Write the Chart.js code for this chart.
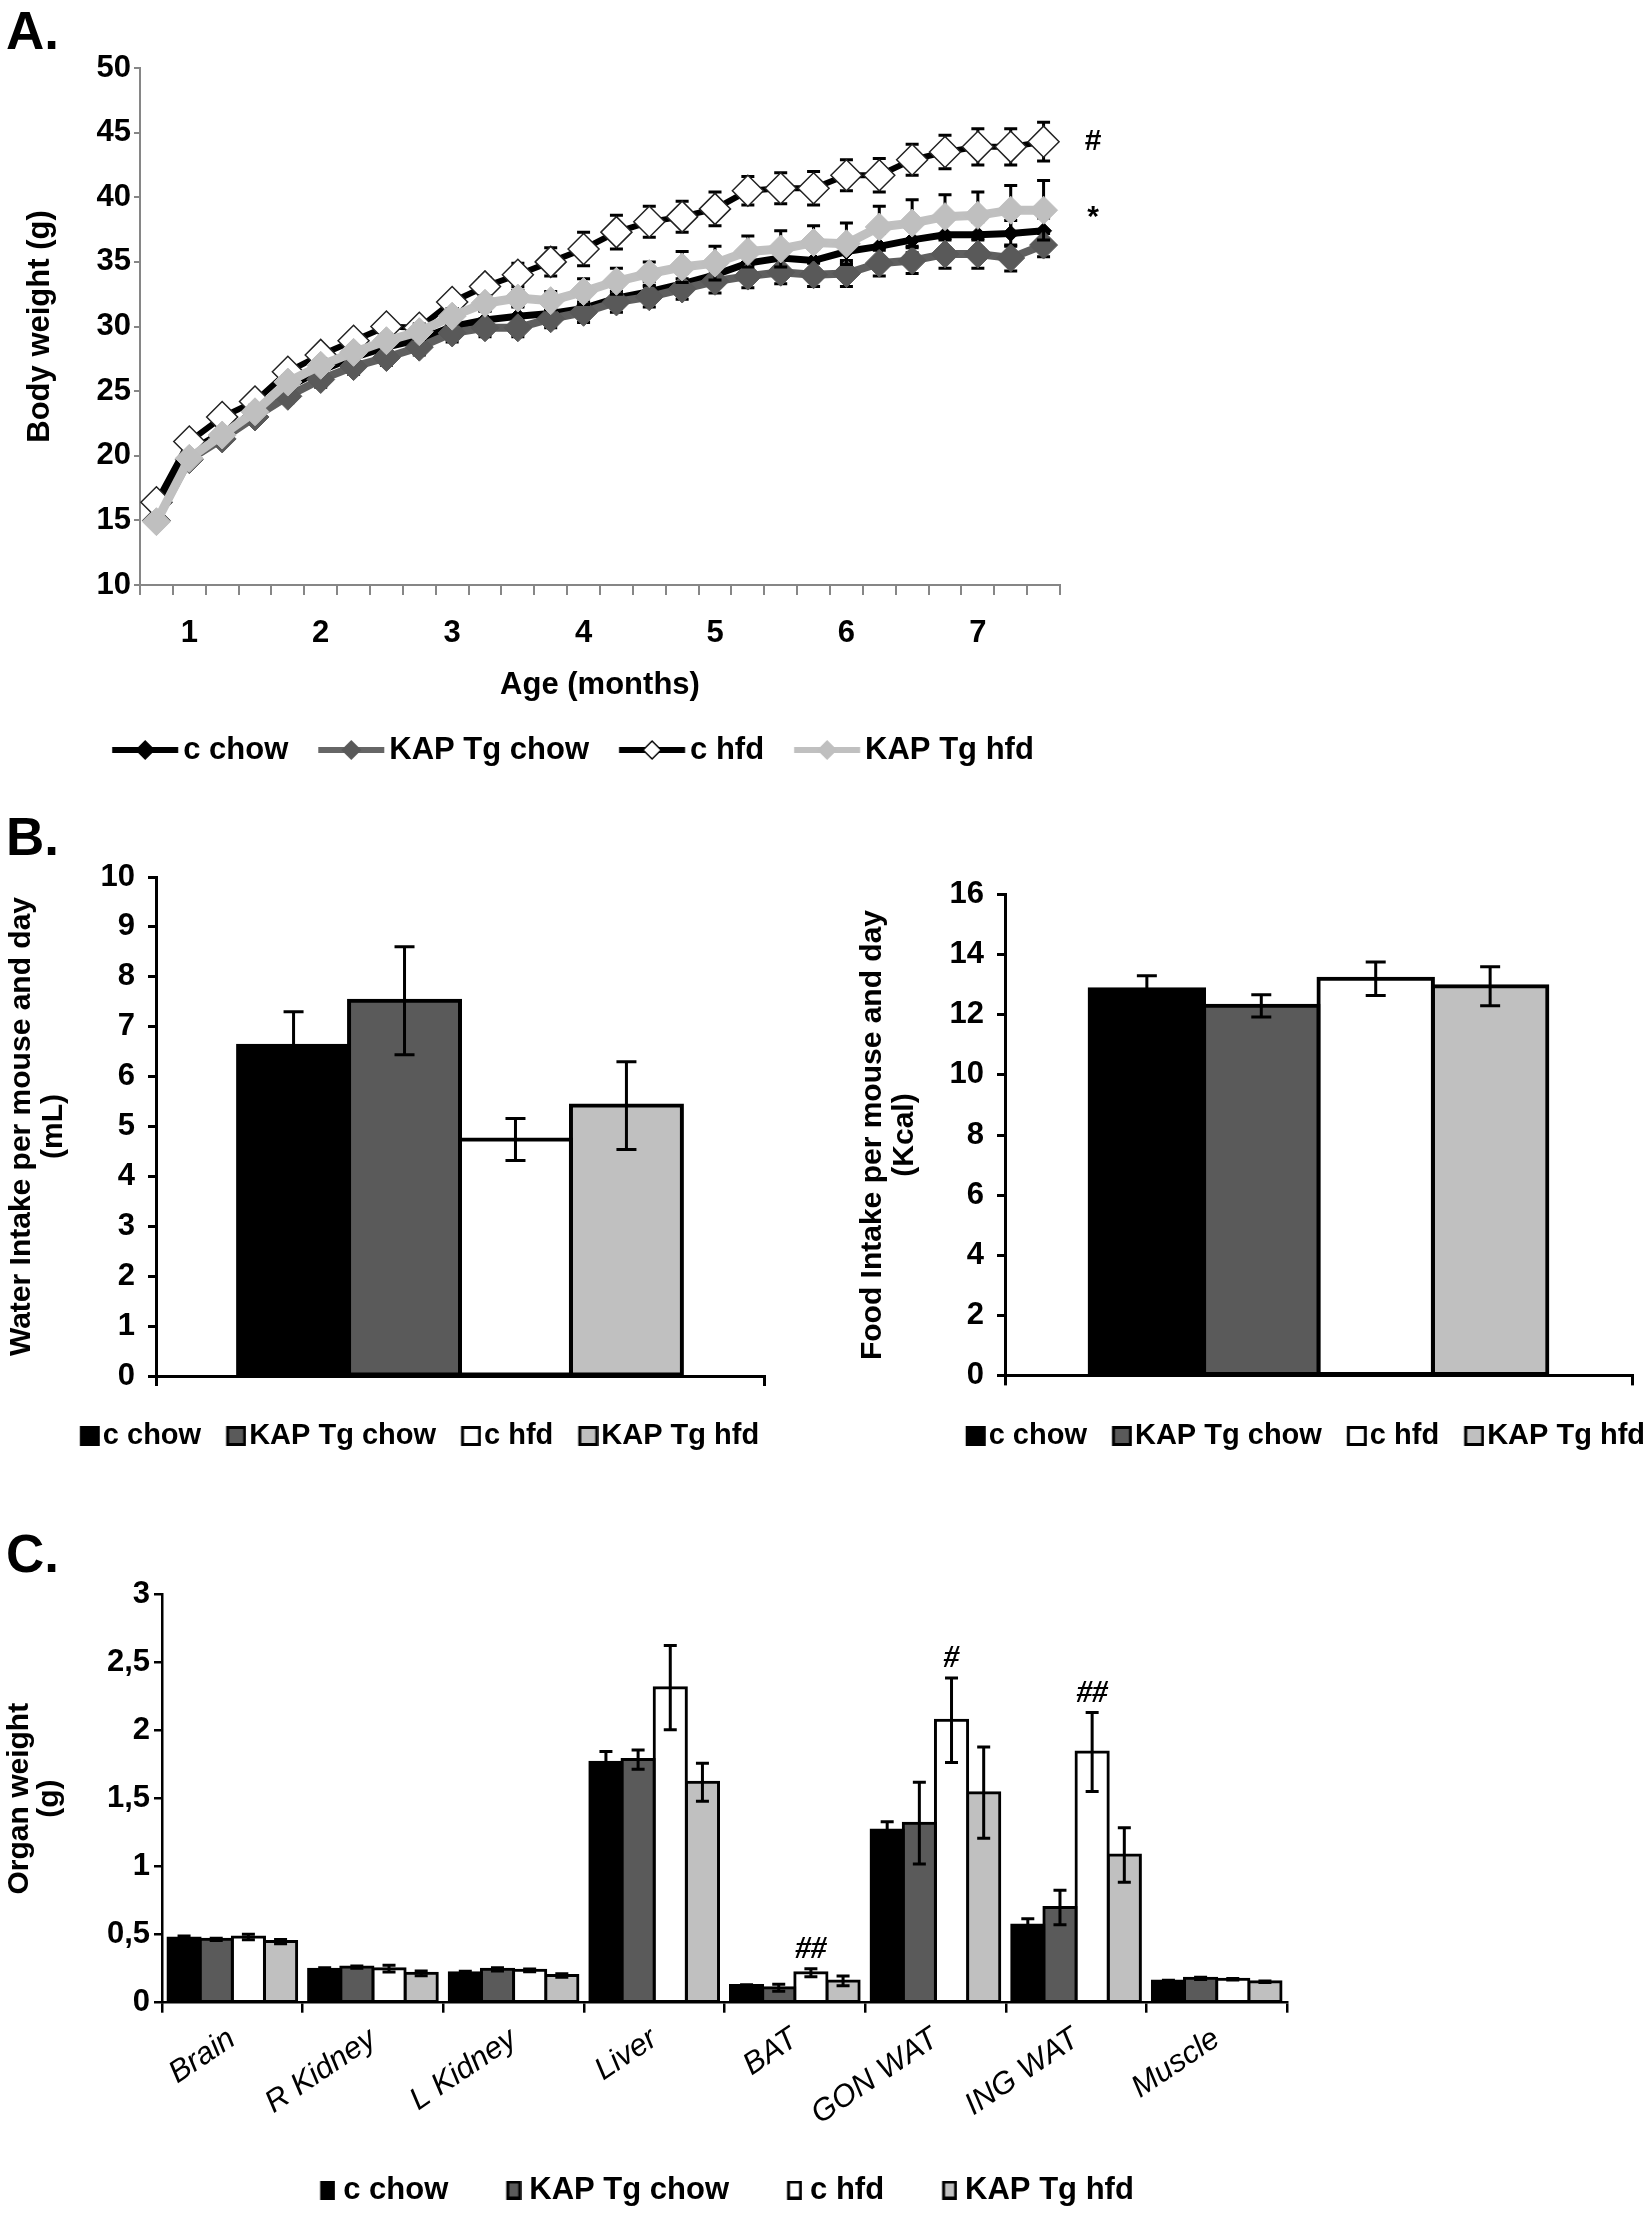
<!DOCTYPE html>
<html>
<head>
<meta charset="utf-8">
<title>Body weight, intake and organ weight</title>
<script src="https://cdn.jsdelivr.net/npm/chart.js@4.4.1/dist/chart.umd.min.js"></script>
<style>
  html, body { margin: 0; padding: 0; background: #fff; overflow: hidden; }
  body { position: relative; width: 1650px; height: 2217px; font-family: "Liberation Sans", Arial, sans-serif; }
  canvas { position: absolute; }
  .tag { position: absolute; left: 6px; font: bold 53px/1 "Liberation Sans", Arial, sans-serif; }
</style>
</head>
<body>
<div class="tag" style="top:4px">A.</div>
<div class="tag" style="top:810px">B.</div>
<div class="tag" style="top:1527px">C.</div>
<canvas id="weight" width="1146" height="745" style="left:0;top:40px"></canvas>
<canvas id="water" width="839" height="630" style="left:0;top:840px"></canvas>
<canvas id="food" width="820" height="630" style="left:850px;top:840px"></canvas>
<canvas id="organs" width="1421" height="657" style="left:0;top:1560px"></canvas>
<script>
// values
var groups = ['c chow', 'KAP Tg chow', 'c hfd', 'KAP Tg hfd'];

// A. body weight, one point a week
var ageLabels = ['', '1', '', '', '', '2', '', '', '', '3', '', '', '', '4', '', '', '', '5', '', '', '', '6', '', '', '', '7', '', ''];
var cChowWeight = [15.4, 20.3, 21.8, 23.3, 25.3, 26.6, 27.6, 28.4, 29.0, 30.0, 30.5, 30.8, 31.0, 31.4, 32.2, 32.7, 33.3, 34.0, 34.9, 35.3, 35.1, 35.8, 36.2, 36.7, 37.1, 37.1, 37.2, 37.4];
var kapChowWeight = [15.0, 19.7, 21.3, 23.0, 24.6, 25.9, 26.9, 27.6, 28.4, 29.5, 29.9, 29.9, 30.6, 31.1, 31.9, 32.3, 32.9, 33.5, 33.9, 34.2, 34.0, 34.1, 34.9, 35.1, 35.6, 35.6, 35.3, 36.3];
var cHfdWeight = [16.4, 21.1, 23.0, 24.2, 26.5, 27.8, 28.9, 30.0, 29.9, 31.9, 33.1, 34.0, 35.0, 36.0, 37.3, 38.1, 38.5, 39.1, 40.5, 40.7, 40.7, 41.7, 41.7, 42.9, 43.5, 43.9, 43.9, 44.3];
var kapHfdWeight = [14.9, 19.8, 21.6, 23.4, 25.7, 27.0, 28.0, 28.9, 29.6, 30.8, 31.8, 32.2, 32.0, 32.7, 33.5, 34.1, 34.6, 34.9, 35.8, 36.0, 36.5, 36.4, 37.7, 38.0, 38.5, 38.6, 39.0, 39.0];
var cChowWeightErr = [0.5, 0.5, 0.5, 0.5, 0.6, 0.6, 0.6, 0.6, 0.7, 0.7, 0.7, 0.7, 0.7, 0.8, 0.8, 0.8, 0.8, 0.8, 0.9, 0.9, 0.9, 0.9, 1.0, 1.0, 1.0, 1.0, 1.0, 1.0];
var kapChowWeightErr = [0.4, 0.4, 0.5, 0.5, 0.5, 0.6, 0.6, 0.6, 0.6, 0.7, 0.7, 0.7, 0.7, 0.8, 0.8, 0.8, 0.8, 0.9, 0.9, 0.9, 0.9, 1.0, 1.0, 1.0, 1.1, 1.1, 1.0, 0.9];
var cHfdWeightErr = [0.5, 0.5, 0.5, 0.5, 0.6, 0.6, 0.6, 0.6, 0.6, 0.6, 0.7, 0.9, 1.1, 1.3, 1.3, 1.2, 1.2, 1.3, 1.1, 1.2, 1.3, 1.2, 1.3, 1.2, 1.3, 1.4, 1.4, 1.5];
var kapHfdWeightErr = [0.4, 0.4, 0.4, 0.5, 0.5, 0.5, 0.5, 0.5, 0.6, 0.6, 0.6, 0.6, 0.7, 1.0, 1.0, 0.9, 1.2, 1.3, 1.2, 1.4, 1.3, 1.6, 1.6, 1.8, 1.7, 1.8, 1.9, 2.3];
var endMarks = ['', '', '#', '*'];

// B. intake per mouse and day
var waterIntake = [6.62, 7.52, 4.74, 5.42];
var waterErr = [0.68, 1.08, 0.42, 0.88];
var foodIntake = [12.85, 12.3, 13.2, 12.95];
var foodErr = [0.45, 0.37, 0.56, 0.65];

// C. organ weight
var organs = ['Brain', 'R Kidney', 'L Kidney', 'Liver', 'BAT', 'GON WAT', 'ING WAT', 'Muscle'];
var cChowOrgan = [0.475, 0.245, 0.22, 1.767, 0.127, 1.27, 0.571, 0.16];
var kapChowOrgan = [0.466, 0.262, 0.245, 1.787, 0.11, 1.32, 0.70, 0.179];
var cHfdOrgan = [0.483, 0.25, 0.238, 2.316, 0.22, 2.076, 1.843, 0.172];
var kapHfdOrgan = [0.449, 0.216, 0.20, 1.62, 0.16, 1.544, 1.086, 0.154];
var cChowOrganErr = [0.015, 0.012, 0.012, 0.08, 0.005, 0.06, 0.047, 0.005];
var kapChowOrganErr = [0.008, 0.008, 0.012, 0.07, 0.025, 0.30, 0.127, 0.008];
var cHfdOrganErr = [0.02, 0.025, 0.01, 0.31, 0.03, 0.31, 0.29, 0.005];
var kapHfdOrganErr = [0.015, 0.017, 0.012, 0.14, 0.036, 0.336, 0.2, 0.005];
var organMarks = ['', '', '', '', '##', '#', '##', ''];

var fills = ['#000000', '#5a5a5a', '#ffffff', '#c0c0c0'];

Chart.defaults.font.family = '"Liberation Sans", Arial, Helvetica, sans-serif';
Chart.defaults.font.weight = 'bold';
Chart.defaults.font.size = 30;
Chart.defaults.color = '#000';
Chart.defaults.animation = false;
Chart.defaults.events = [];
Chart.defaults.plugins.tooltip.enabled = false;

// error bars from dataset.errors, under the markers for lines, on top for bars
function drawErrors(chart, index, opts) {
	var ds = chart.data.datasets[index];
	if (!ds.errors) return;
	var meta = chart.getDatasetMeta(index),
		y = chart.scales[meta.yAxisID],
		ctx = chart.ctx,
		hw = opts.cap / 2;
	ctx.save();
	ctx.strokeStyle = opts.color;
	ctx.lineWidth = opts.width;
	meta.data.forEach(function (el, k) {
		var v = ds.data[k], e = ds.errors[k];
		if (v == null || !e) return;
		var top = y.getPixelForValue(v + e),
			bot = y.getPixelForValue(v - e);
		ctx.beginPath();
		ctx.moveTo(el.x, top); ctx.lineTo(el.x, bot);
		ctx.moveTo(el.x - hw, top); ctx.lineTo(el.x + hw, top);
		ctx.moveTo(el.x - hw, bot); ctx.lineTo(el.x + hw, bot);
		ctx.stroke();
	});
	ctx.restore();
}

var errorBars = {
	id: 'errorBars',
	defaults: { under: false, cap: 14, width: 3, color: '#000' },
	beforeDatasetDraw: function (chart, args, opts) { if (opts.under) drawErrors(chart, args.index, opts); },
	afterDatasetDraw: function (chart, args, opts) { if (!opts.under) drawErrors(chart, args.index, opts); }
};

// significance signs: at the end of a line, or above a bar's error bar
var sigMarks = {
	id: 'sigMarks',
	afterDatasetsDraw: function (chart) {
		var ctx = chart.ctx;
		chart.data.datasets.forEach(function (ds, i) {
			var meta = chart.getDatasetMeta(i),
				y = chart.scales[meta.yAxisID];
			ctx.save();
			ctx.fillStyle = '#000';
			ctx.textAlign = 'center';
			ctx.textBaseline = 'middle';
			if (ds.endMark) {
				var last = ds.data.length - 1;
				ctx.font = 'bold 30px "Liberation Sans", Arial, sans-serif';
				ctx.fillText(ds.endMark, chart.chartArea.right + 33,
					y.getPixelForValue(ds.data[last]) + (ds.endMark === '*' ? 8 : 0));
			}
			if (ds.marks) {
				ctx.font = 'italic bold 31px "Liberation Serif", "Times New Roman", serif';
				ds.marks.forEach(function (m, k) {
					if (!m) return;
					var top = y.getPixelForValue(ds.data[k] + (ds.errors ? ds.errors[k] : 0));
					ctx.fillText(m, meta.data[k].x, top - 19);
				});
			}
			ctx.restore();
		});
	}
};

Chart.register(errorBars, sigMarks);

// legend symbol: starts lead px into the item, text follows gap px after it
function legendIcon(symW, symH, gap, fontSize, paint, lead) {
	lead = lead || 0;
	var boxW = lead + symW + gap - fontSize / 2,
		half = Math.ceil(Math.max(Math.abs(boxW / 2 - lead), Math.abs(lead + symW - boxW / 2))),
		c = document.createElement('canvas');
	c.width = 2 * half;
	c.height = symH;
	var g = c.getContext('2d');
	g.translate(half - boxW / 2 + lead, 0);
	paint(g, symW, symH);
	return { img: c, boxW: boxW };
}

function lineIcon(line, fill, edge) {
	return function (g, w, h) {
		g.strokeStyle = line;
		g.lineWidth = 6;
		g.beginPath(); g.moveTo(0, h / 2); g.lineTo(w, h / 2); g.stroke();
		g.beginPath();
		g.moveTo(w / 2 - 9, h / 2); g.lineTo(w / 2, h / 2 - 9);
		g.lineTo(w / 2 + 9, h / 2); g.lineTo(w / 2, h / 2 + 9);
		g.closePath();
		g.fillStyle = fill; g.fill();
		g.strokeStyle = edge; g.lineWidth = 1.5; g.stroke();
	};
}

function boxIcon(fill) {
	return function (g, w, h) {
		g.fillStyle = fill;
		g.fillRect(1.5, 1.5, w - 3, h - 3);
		g.strokeStyle = '#000';
		g.lineWidth = 3;
		g.strokeRect(1.5, 1.5, w - 3, h - 3);
	};
}

function legendLabels(icons) {
	return function (chart) {
		return Chart.defaults.plugins.legend.labels.generateLabels(chart)
			.sort(function (a, b) { return a.datasetIndex - b.datasetIndex; })
			.map(function (item) { item.pointStyle = icons[item.datasetIndex].img; return item; });
	};
}

function legendOpts(icons, fontSize, padding, align) {
	return {
		position: 'bottom',
		align: align || 'center',
		labels: {
			usePointStyle: true,
			pointStyleWidth: icons[0].boxW,
			padding: padding,
			font: { size: fontSize },
			color: '#000',
			generateLabels: legendLabels(icons)
		}
	};
}

// x axis takes what is left so the plot bottom lands where it should
function fitBottom(bottom, padBottom) {
	return function (s) { s.height = s.chart.height - padBottom - s.chart.legend.height - bottom; };
}
function fixWidth(w) {
	return function (s) { s.width = w; };
}
function spacer(w) {
	return { position: 'right', display: true, ticks: { display: false }, grid: { display: false }, border: { display: false }, afterFit: fixWidth(w) };
}

// ---------- A ----------
var weightIcons = [
	legendIcon(66, 22, 5, 31, lineIcon('#000', '#000', '#000')),
	legendIcon(66, 22, 5, 31, lineIcon('#666', '#595959', '#595959')),
	legendIcon(66, 22, 5, 31, lineIcon('#000', '#fff', '#000')),
	legendIcon(66, 22, 5, 31, lineIcon('#c0c0c0', '#bfbfbf', '#bfbfbf'))
];

new Chart(document.getElementById('weight'), {
	type: 'line',
	data: {
		labels: ageLabels,
		datasets: [
			{ label: groups[0], data: cChowWeight, errors: cChowWeightErr, endMark: endMarks[0], order: 4,
				borderColor: '#000', borderWidth: 7, pointStyle: 'rectRot', pointRadius: 8,
				pointBackgroundColor: '#000', pointBorderColor: '#000', pointBorderWidth: 1 },
			{ label: groups[1], data: kapChowWeight, errors: kapChowWeightErr, endMark: endMarks[1], order: 3,
				borderColor: '#5f5f5f', borderWidth: 8, pointStyle: 'rectRot', pointRadius: 14,
				pointBackgroundColor: '#595959', pointBorderColor: '#595959', pointBorderWidth: 1 },
			{ label: groups[2], data: cHfdWeight, errors: cHfdWeightErr, endMark: endMarks[2], order: 2,
				borderColor: '#000', borderWidth: 6, pointStyle: 'rectRot', pointRadius: 15.5,
				pointBackgroundColor: '#fff', pointBorderColor: '#222', pointBorderWidth: 1.5 },
			{ label: groups[3], data: kapHfdWeight, errors: kapHfdWeightErr, endMark: endMarks[3], order: 1,
				borderColor: '#c0c0c0', borderWidth: 9, pointStyle: 'rectRot', pointRadius: 14,
				pointBackgroundColor: '#bfbfbf', pointBorderColor: '#bfbfbf', pointBorderWidth: 1 }
		]
	},
	options: {
		responsive: false,
		layout: { padding: { top: 28, bottom: 9.5, left: 0, right: 0 } },
		plugins: {
			legend: legendOpts(weightIcons, 31, 30),
			errorBars: { under: true, cap: 13, width: 3 }
		},
		scales: {
			x: {
				offset: true,
				grid: { offset: true, drawOnChartArea: false, tickLength: 10, color: '#868686', lineWidth: 2 },
				border: { color: '#868686', width: 2 },
				ticks: { autoSkip: false, maxRotation: 0, padding: 20, font: { size: 31 } },
				title: { display: true, text: 'Age (months)', font: { size: 31, lineHeight: 1.2 }, padding: { top: 0, bottom: 0 } },
				afterFit: fitBottom(545, 9.5)
			},
			y: {
				min: 10, max: 50,
				ticks: { stepSize: 5, padding: 3, font: { size: 31 } },
				grid: { drawOnChartArea: false, tickLength: 6, color: '#868686', lineWidth: 2 },
				border: { color: '#868686', width: 2 },
				title: { display: true, text: 'Body weight (g)', font: { size: 31, lineHeight: 1.2 }, padding: { top: 22, bottom: 0 } },
				afterFit: fixWidth(140)
			},
			y2: spacer(86)
		}
	}
});

// ---------- B ----------
function groupBars(values, errors) {
	return groups.map(function (g, i) {
		return {
			label: g, data: [values[i]], errors: [errors[i]],
			backgroundColor: fills[i], borderColor: '#000', borderWidth: 4, inflateAmount: 2, borderSkipped: false
		};
	});
}

var intakeIcons = fills.map(function (f) { return legendIcon(20, 20, 3, 29, boxIcon(f)); });

function intakeChart(id, values, errors, o) {
	return new Chart(document.getElementById(id), {
		type: 'bar',
		data: { labels: [''], datasets: groupBars(values, errors) },
		options: {
			responsive: false,
			datasets: { bar: { categoryPercentage: 0.73, barPercentage: 1 } },
			layout: { padding: { top: o.top, bottom: 9.5, left: 0, right: 0 } },
			plugins: {
				legend: legendOpts(intakeIcons, 29, 25, o.align),
				errorBars: { cap: 20, width: 3 }
			},
			scales: {
				x: {
					grid: { offset: true, drawOnChartArea: false, tickLength: 10, color: '#000', lineWidth: 3 },
					border: { color: '#000', width: 3 },
					ticks: { display: false },
					afterFit: fitBottom(o.bottom, 9.5)
				},
				y: {
					min: 0, max: o.max,
					ticks: { stepSize: o.step, padding: 13, font: { size: 31 } },
					grid: { drawOnChartArea: false, tickLength: 8, color: '#000', lineWidth: 3 },
					border: { color: '#000', width: 3 },
					title: { display: true, text: o.title, font: { size: 30, lineHeight: 1.05 }, padding: { top: o.titlePad, bottom: 0 } },
					afterFit: fixWidth(o.yWidth)
				},
				y2: spacer(o.rightWidth)
			}
		}
	});
}

intakeChart('water', waterIntake, waterErr, {
	top: 37, bottom: 536, max: 10, step: 1, yWidth: 156, rightWidth: 75, titlePad: 6,
	title: ['Water Intake per mouse and day', '(mL)']
});
intakeChart('food', foodIntake, foodErr, {
	top: 54.6, bottom: 535.4, max: 16, step: 2, yWidth: 155, rightWidth: 38, titlePad: 7, align: 'end',
	title: ['Food Intake per mouse and day', '(Kcal)']
});

// ---------- C ----------
var organSeries = [cChowOrgan, kapChowOrgan, cHfdOrgan, kapHfdOrgan];
var organErrors = [cChowOrganErr, kapChowOrganErr, cHfdOrganErr, kapHfdOrganErr];
// wide gaps come from the icon's lead so the legend stays short and the rotated labels are not clipped
var organIcons = fills.map(function (f) { return legendIcon(15, 19, 8, 31, boxIcon(f), 33); });

new Chart(document.getElementById('organs'), {
	type: 'bar',
	data: {
		labels: organs,
		datasets: groups.map(function (g, i) {
			return {
				label: g, data: organSeries[i], errors: organErrors[i], marks: i === 2 ? organMarks : null,
				backgroundColor: fills[i], borderColor: '#000', borderWidth: 3, inflateAmount: 1.5, borderSkipped: false
			};
		})
	},
	options: {
		responsive: false,
		datasets: { bar: { categoryPercentage: 0.915, barPercentage: 1 } },
		layout: { padding: { top: 34.6, bottom: 1.5, left: 0, right: 0 } },
		plugins: {
			legend: legendOpts(organIcons, 31, 25),
			errorBars: { cap: 13, width: 3 }
		},
		scales: {
			x: {
				grid: { offset: true, drawOnChartArea: false, tickLength: 10, color: '#000', lineWidth: 2.5 },
				border: { color: '#000', width: 2.5 },
				ticks: { autoSkip: false, minRotation: 34, maxRotation: 34, padding: 8, font: { size: 31, style: 'italic', weight: 'normal' } },
				afterFit: fitBottom(442.7, 1.5)
			},
			y: {
				min: 0, max: 3,
				ticks: { stepSize: 0.5, padding: 4, font: { size: 31 },
					callback: function (v) { return String(v).replace('.', ','); } },
				grid: { drawOnChartArea: false, tickLength: 8, color: '#000', lineWidth: 2.5 },
				border: { color: '#000', width: 2.5 },
				title: { display: true, text: ['Organ weight', '(g)'], font: { size: 30, lineHeight: 1.0 }, padding: { top: 5, bottom: 0 } },
				afterFit: fixWidth(162)
			},
			y2: spacer(134)
		}
	}
});
</script>
</body>
</html>
